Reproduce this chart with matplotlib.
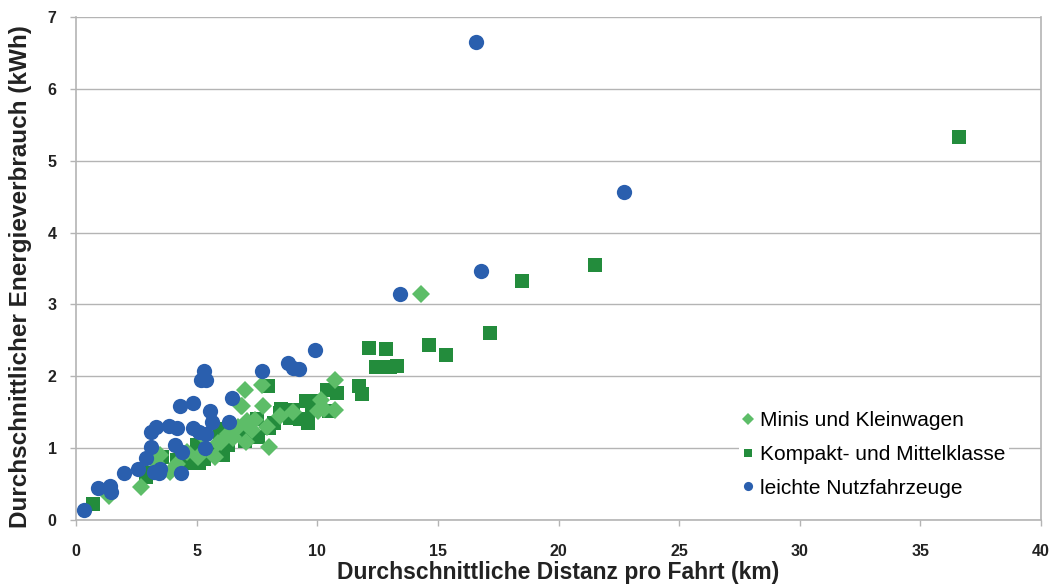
import matplotlib.pyplot as plt

plt.rcParams['font.family'] = ['Liberation Sans', 'DejaVu Sans']

# Minis und Kleinwagen
minis_x = [1.35, 2.7, 3.9, 5.05, 5.75, 6.0, 6.5, 6.85, 7.0, 7.7, 10.75, 6.9, 7.75, 8.45,
           7.4, 7.1, 7.9, 6.5, 7.05, 8.0, 5.9, 10.15, 10.05, 10.75, 6.7, 14.3, 3.5, 4.2,
           5.3, 6.3, 7.3, 9.0, 10.3, 3.3, 4.6]
minis_y = [0.33, 0.46, 0.67, 0.88, 0.88, 1.09, 1.14, 1.58, 1.81, 1.88, 1.95, 1.58, 1.58, 1.45,
           1.39, 1.38, 1.30, 1.16, 1.09, 1.02, 1.07, 1.67, 1.51, 1.53, 1.30, 3.15, 0.90, 0.78,
           1.15, 1.20, 1.25, 1.50, 1.55, 0.80, 0.95]

# Kompakt- und Mittelklasse
kompakt_x = [0.7, 2.9, 3.55, 4.2, 5.1, 6.1, 5.0, 5.95, 6.9, 7.95, 11.75, 11.85, 10.8, 10.4,
             9.55, 9.0, 8.45, 8.0, 7.55, 7.2, 6.1, 5.95, 5.1, 6.1, 10.1, 10.5, 8.85, 12.15,
             12.85, 12.45, 13.0, 13.3, 14.65, 15.35, 17.15, 18.5, 21.5, 36.6, 6.5, 7.0, 7.5,
             8.5, 9.3, 9.8, 4.5, 5.3, 3.0, 6.3, 8.2, 9.6, 10.0, 5.5]
kompakt_y = [0.22, 0.60, 0.88, 0.84, 0.79, 0.91, 1.05, 1.26, 1.26, 1.86, 1.86, 1.76, 1.77, 1.81,
             1.65, 1.53, 1.49, 1.28, 1.16, 1.26, 1.26, 1.07, 1.02, 0.93, 1.65, 1.51, 1.42, 2.40,
             2.38, 2.13, 2.13, 2.15, 2.44, 2.30, 2.60, 3.33, 3.55, 5.33, 1.20, 1.10, 1.40,
             1.55, 1.40, 1.55, 0.80, 0.85, 0.65, 1.05, 1.35, 1.35, 1.60, 0.95]

# leichte Nutzfahrzeuge
nutz_x = [0.35, 0.9, 1.4, 1.45, 2.0, 2.55, 2.9, 3.1, 3.1, 3.3, 3.85, 4.2, 4.3, 4.85, 5.3,
          5.2, 5.4, 6.45, 5.55, 5.65, 6.35, 4.85, 5.1, 5.4, 4.1, 4.4, 3.25, 3.45, 3.5, 4.35,
          5.35, 7.7, 8.8, 9.0, 9.25, 9.9, 13.45, 16.6, 16.8, 22.7]
nutz_y = [0.14, 0.44, 0.47, 0.39, 0.65, 0.71, 0.86, 1.02, 1.22, 1.30, 1.31, 1.28, 1.58, 1.63, 2.07,
          1.95, 1.95, 1.70, 1.51, 1.37, 1.37, 1.28, 1.23, 1.19, 1.05, 0.95, 0.67, 0.65, 0.71, 0.65,
          1.00, 2.08, 2.19, 2.12, 2.10, 2.36, 3.14, 6.65, 3.46, 4.57]

col_minis = '#5dbd68'
col_kompakt = '#238c3c'
col_nutz = '#2a5fae'
grey = '#b4b4b4'

fig = plt.figure(figsize=(10.53, 5.85), dpi=100)
ax = fig.add_axes([76/1053, 65/585, 965/1053, 503/585])

h2, = ax.plot(kompakt_x, kompakt_y, 's', color=col_kompakt, ms=10.5, mew=0, zorder=3,
              label='Kompakt- und Mittelklasse')
h1, = ax.plot(minis_x, minis_y, 'D', color=col_minis, ms=9.5, mew=0, zorder=4,
              label='Minis und Kleinwagen')
h3, = ax.plot(nutz_x, nutz_y, 'o', color=col_nutz, ms=11, mew=0, zorder=5,
              label='leichte Nutzfahrzeuge')

ax.set_xlim(0, 40)
ax.set_ylim(0, 7)
ax.set_xticks(range(0, 41, 5))
ax.set_yticks(range(0, 8))
ax.grid(axis='y', color=grey, lw=1)
ax.set_axisbelow(True)
for s in ['left', 'bottom', 'right']:
    ax.spines[s].set_color(grey)
    ax.spines[s].set_linewidth(1.2)
ax.spines['top'].set_visible(False)
ax.tick_params(colors=grey, length=4, width=1)
for lab in ax.get_xticklabels() + ax.get_yticklabels():
    lab.set_color('#222222')
    lab.set_fontsize(11.5)
    lab.set_fontweight('bold')
ax.tick_params(axis='y', pad=10)
ax.tick_params(axis='x', pad=13)

ax.set_xlabel('Durchschnittliche Distanz pro Fahrt (km)', fontsize=16.5, fontweight='bold',
              color='#222222', labelpad=2)
ax.set_ylabel('Durchschnittlicher Energieverbrauch (kWh)', fontsize=17.5, fontweight='bold',
              color='#222222')
ax.yaxis.set_label_coords(-0.046, 0.483)

leg = ax.legend(handles=[h1, h2, h3], loc='upper left', bbox_to_anchor=(0.676, 0.245),
                frameon=True, facecolor='white', edgecolor='none', framealpha=1,
                fontsize=15, markerscale=0.6, handlelength=0.5, handletextpad=0.3,
                labelspacing=0.7, borderpad=0.2, numpoints=1)
leg.set_zorder(6)

fig.savefig('out.png', dpi=100)
